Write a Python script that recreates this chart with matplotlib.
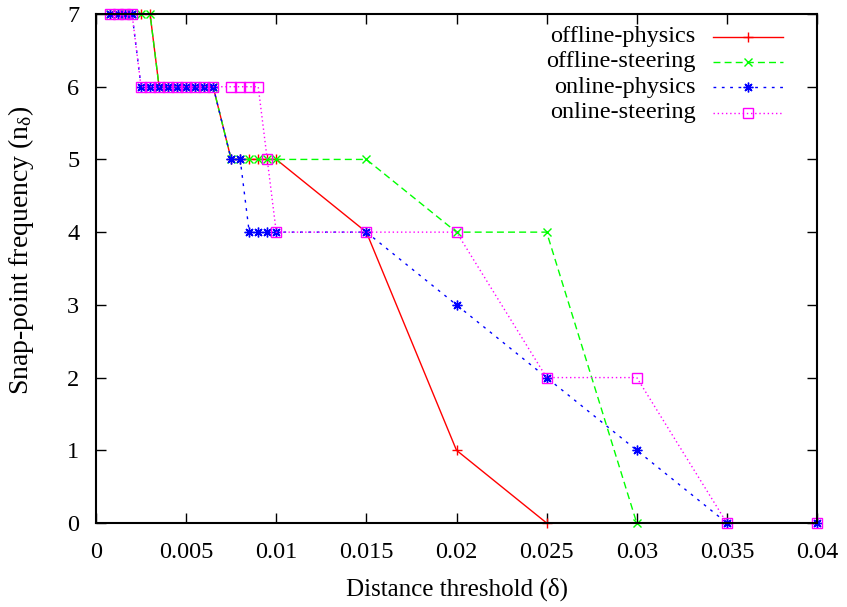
import matplotlib
matplotlib.use("Agg")
import matplotlib.pyplot as plt
from matplotlib.lines import Line2D

plt.rcParams['font.family'] = ['Liberation Serif', 'DejaVu Serif']
plt.rcParams['mathtext.fontset'] = 'custom'
plt.rcParams['mathtext.rm'] = 'Liberation Serif'
plt.rcParams['mathtext.it'] = 'Liberation Serif:italic'

# Data
x_offline_physics = [0.0008, 0.0012, 0.0016, 0.002, 0.0025, 0.003, 0.0035, 0.004, 0.0045, 0.005,
                     0.0055, 0.006, 0.0065, 0.0075, 0.008, 0.0085, 0.009, 0.0095, 0.01,
                     0.015, 0.02, 0.025]
y_offline_physics = [7, 7, 7, 7, 7, 7, 6, 6, 6, 6, 6, 6, 6, 5, 5, 5, 5, 5, 5, 4, 1, 0]

x_offline_steering = [0.0008, 0.0012, 0.0016, 0.002, 0.0025, 0.003, 0.0035, 0.004, 0.0045, 0.005,
                      0.0055, 0.006, 0.0065, 0.0075, 0.008, 0.0085, 0.009, 0.0095, 0.01,
                      0.015, 0.02, 0.025, 0.03]
y_offline_steering = [7, 7, 7, 7, 7, 7, 6, 6, 6, 6, 6, 6, 6, 5, 5, 5, 5, 5, 5, 5, 4, 4, 0]

x_online_physics = [0.0008, 0.0012, 0.0016, 0.002, 0.0025, 0.003, 0.0035, 0.004, 0.0045, 0.005,
                    0.0055, 0.006, 0.0065, 0.0075, 0.008, 0.0085, 0.009, 0.0095, 0.01,
                    0.015, 0.02, 0.025, 0.03, 0.035, 0.04]
y_online_physics = [7, 7, 7, 7, 6, 6, 6, 6, 6, 6, 6, 6, 6, 5, 5, 4, 4, 4, 4, 4, 3, 2, 1, 0, 0]

x_online_steering = [0.0008, 0.0012, 0.0016, 0.002, 0.0025, 0.003, 0.0035, 0.004, 0.0045, 0.005,
                     0.0055, 0.006, 0.0065, 0.0075, 0.008, 0.0085, 0.009, 0.0095, 0.01,
                     0.015, 0.02, 0.025, 0.03, 0.035, 0.04]
y_online_steering = [7, 7, 7, 7, 6, 6, 6, 6, 6, 6, 6, 6, 6, 6, 6, 6, 6, 5, 4, 4, 4, 2, 2, 0, 0]

labels = ['offline-physics', 'offline-steering', 'online-physics', 'online-steering']
x_ticks = [0, 0.005, 0.01, 0.015, 0.02, 0.025, 0.03, 0.035, 0.04]
x_tick_labels = ['0', '0.005', '0.01', '0.015', '0.02', '0.025', '0.03', '0.035', '0.04']
y_ticks = [0, 1, 2, 3, 4, 5, 6, 7]

fig = plt.figure(figsize=(8.47, 6.07), dpi=100)
ax = fig.add_axes([96/847, 1-523/607, 721/847, 509/607])

star = (8, 2, 0)
styles = [
    dict(color='#ff0000', linestyle='-', marker='+', markersize=7, mew=1.0),
    dict(color='#00ff00', linestyle=(0, (5, 3)), marker='x', markersize=6, mew=1.0),
    dict(color='#0000ff', linestyle=(0, (2, 4)), marker=star, markersize=7, mew=1.0),
    dict(color='#ff00ff', linestyle=(0, (1, 2)), marker='s', markersize=6.5, mew=1.0, mfc='none'),
]
series = [(x_offline_physics, y_offline_physics), (x_offline_steering, y_offline_steering),
          (x_online_physics, y_online_physics), (x_online_steering, y_online_steering)]

for (xs, ys), st in zip(series, styles):
    ax.plot(xs, ys, lw=1.0, clip_on=False, zorder=3, **st)

FS = 17.5
ax.set_xlim(0, 0.04)
ax.set_ylim(0, 7)
ax.set_xticks(x_ticks)
ax.set_xticklabels(x_tick_labels)
ax.set_yticks(y_ticks)
ax.tick_params(direction='in', length=7, width=1.0, top=True, right=True, labelsize=FS)
ax.tick_params(axis='x', pad=14)
ax.tick_params(axis='y', pad=12)
for s in ax.spines.values():
    s.set_linewidth(1.5)
    s.set_zorder(4)

ax.set_xlabel('Distance threshold (δ)', fontsize=18, labelpad=10)
ax.set_ylabel(r'Snap-point frequency (n$_{\mathregular{δ}}$)', fontsize=20)
ax.yaxis.set_label_coords(-0.083, 0.536)

# Legend (gnuplot style: right-aligned text, sample to the right)
rows = [0.955, 0.906, 0.856, 0.806]
for lab, st, yy in zip(labels, styles, rows):
    ax.text(0.832, yy, lab, transform=ax.transAxes, ha='right', va='center', fontsize=FS)
    ln = Line2D([0.856, 0.953], [yy, yy], transform=ax.transAxes, lw=1.0,
                color=st['color'], linestyle=st['linestyle'])
    ax.add_line(ln)
    mk = {k: v for k, v in st.items() if k != 'linestyle'}
    mk = Line2D([0.9045], [yy], transform=ax.transAxes, linestyle='none', **mk)
    ax.add_line(mk)

fig.savefig('out.png', dpi=100)
